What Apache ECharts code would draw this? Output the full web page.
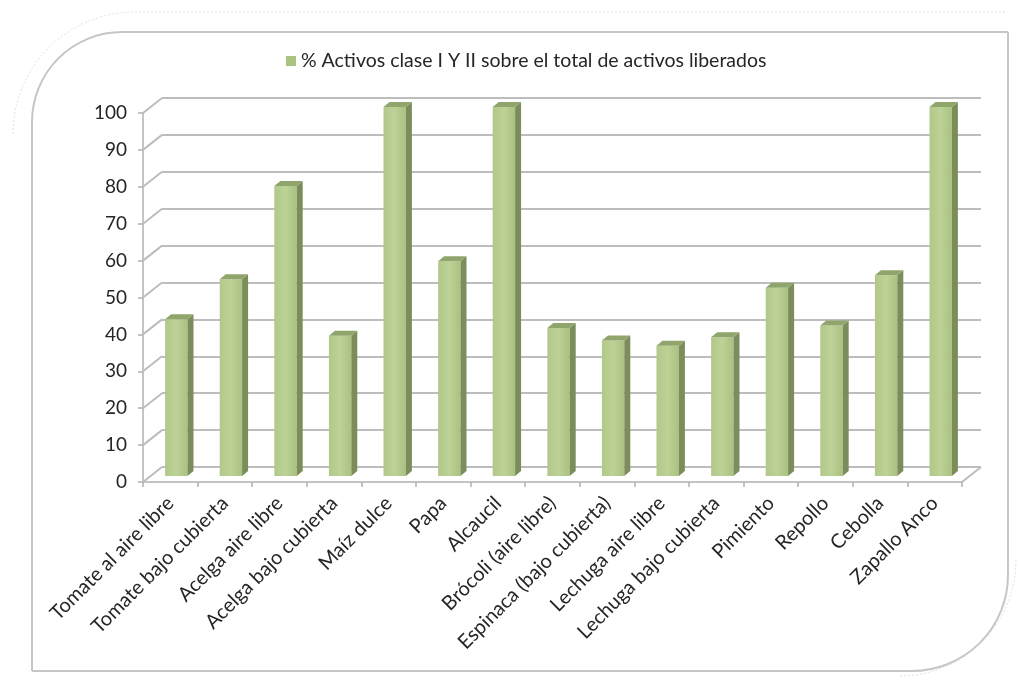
<!DOCTYPE html>
<html>
<head>
<meta charset="utf-8">
<script src="https://cdn.jsdelivr.net/npm/echarts@6/dist/echarts.min.js"></script>
<style>
html,body{margin:0;padding:0;background:#fff;}
#chart{width:1018px;height:684px;}
</style>
</head>
<body>
<div id="chart"></div>
<script>
const categories = [
  'Tomate al aire libre', 'Tomate bajo cubierta', 'Acelga aire libre', 'Acelga bajo cubierta',
  'Maíz dulce', 'Papa', 'Alcaucil', 'Brócoli (aire libre)', 'Espinaca (bajo cubierta)',
  'Lechuga aire libre', 'Lechuga bajo cubierta', 'Pimiento', 'Repollo', 'Cebolla', 'Zapallo Anco'
];
const values = [42.5, 53.3, 78.6, 38.0, 100, 58.2, 100, 40.1, 36.7, 35.3, 37.6, 51.0, 40.8, 54.4, 100];
const seriesName = '% Activos clase I Y II sobre el total de activos liberados';
const yTicks = [0, 10, 20, 30, 40, 50, 60, 70, 80, 90, 100];

const WALL_DX = 19, WALL_DY = -15;   // depth of the 3D box
const BAR_DX = 6, BAR_DY = -6;       // bar position in depth
const BD_X = 6, BD_Y = -5;           // bar own depth

const chart = echarts.init(document.getElementById('chart'), null, {renderer: 'canvas'});

const gridColor = '#bdbdbd';
const font = 'Lato, "Open Sans", sans-serif';
const frameStyle = {fill: 'none', stroke: '#c6c6c6', lineWidth: 2};
const outerStyle = {fill: 'none', stroke: '#e0e0e0', lineWidth: 1, lineDash: [2, 2]};

const option = {
  backgroundColor: '#ffffff',
  animation: false,
  legend: {
    top: 46,
    left: 281,
    itemWidth: 10,
    itemHeight: 10,
    icon: 'rect',
    itemGap: 7,
    textStyle: {fontFamily: font, fontSize: 19.5, color: '#262626'},
    data: [{name: seriesName, icon: 'rect', itemStyle: {color: '#a9c47f'}}]
  },
  graphic: [
    {type: 'line', silent: true, shape: {x1: 122, y1: 32, x2: 1008, y2: 32}, style: frameStyle},
    {type: 'line', silent: true, shape: {x1: 1008, y1: 32, x2: 1008, y2: 575}, style: frameStyle},
    {type: 'arc', silent: true, shape: {cx: 912, cy: 575, r: 96, startAngle: 0, endAngle: Math.PI / 2}, style: frameStyle},
    {type: 'line', silent: true, shape: {x1: 912, y1: 671, x2: 32, y2: 671}, style: frameStyle},
    {type: 'line', silent: true, shape: {x1: 32, y1: 671, x2: 32, y2: 122}, style: frameStyle},
    {type: 'arc', silent: true, shape: {cx: 122, cy: 122, r: 90, startAngle: Math.PI, endAngle: Math.PI * 1.5}, style: frameStyle},
    {type: 'arc', silent: true, shape: {cx: 135, cy: 134, r: 122, startAngle: Math.PI, endAngle: Math.PI * 1.5}, style: outerStyle},
    {type: 'line', silent: true, shape: {x1: 135, y1: 12, x2: 1005, y2: 12}, style: outerStyle},
    {type: 'arc', silent: true, shape: {cx: 900, cy: 560, r: 116, startAngle: 0, endAngle: Math.PI / 2}, style: outerStyle}
  ],
  grid: [
    {left: 143, right: 56, top: 113, bottom: 202},
    {left: 143 + WALL_DX, right: 56 - WALL_DX, top: 113 + WALL_DY, bottom: 202 - WALL_DY}
  ],
  xAxis: [
    {
      type: 'category', gridIndex: 0, data: categories, boundaryGap: true,
      axisLine: {show: true, lineStyle: {color: '#b0b0b0', width: 1.5}},
      axisTick: {show: true, length: 5, lineStyle: {color: '#b0b0b0', width: 1.5}},
      axisLabel: {interval: 0, rotate: 45, margin: 18, fontFamily: font, fontSize: 20, color: '#262626'},
      splitLine: {show: false}
    },
    {
      type: 'value', gridIndex: 1, min: 0, max: 1, show: false
    }
  ],
  yAxis: [
    {
      type: 'value', gridIndex: 0, min: 0, max: 100, interval: 10,
      axisLine: {show: true, lineStyle: {color: '#b0b0b0', width: 1.5}},
      axisTick: {show: true, length: 5, lineStyle: {color: '#b0b0b0', width: 1.5}},
      axisLabel: {margin: 16, fontFamily: font, fontSize: 19, color: '#262626'},
      splitLine: {show: false}
    },
    {
      type: 'value', gridIndex: 1, min: 0, max: 100, interval: 10,
      axisLine: {show: false}, axisTick: {show: false}, axisLabel: {show: false},
      splitLine: {show: true, lineStyle: {color: gridColor, width: 2}}
    }
  ],
  series: [
    {
      type: 'custom',
      name: 'wall',
      xAxisIndex: 0, yAxisIndex: 0,
      silent: true,
      clip: false,
      z: 1,
      data: yTicks.map(v => [0, v]),
      renderItem: function (params, api) {
        const v = api.value(1);
        const p = api.coord([0, v]);
        const cs = params.coordSys;
        const x = cs.x;
        const children = [{
          type: 'line',
          shape: {x1: x, y1: p[1], x2: x + WALL_DX, y2: p[1] + WALL_DY},
          style: {stroke: gridColor, lineWidth: 2}
        }];
        if (v === 0) {
          const xr = cs.x + cs.width;
          children.push({
            type: 'line',
            shape: {x1: xr, y1: p[1], x2: xr + WALL_DX, y2: p[1] + WALL_DY},
            style: {stroke: gridColor, lineWidth: 2}
          });
        }
        return {type: 'group', children: children};
      }
    },
    {
      type: 'custom',
      name: seriesName,
      xAxisIndex: 0, yAxisIndex: 0,
      clip: false,
      z: 3,
      itemStyle: {color: '#a9c47f'},
      data: values.map((v, i) => [i, v]),
      encode: {x: 0, y: 1},
      renderItem: function (params, api) {
        const i = api.value(0), v = api.value(1);
        const top = api.coord([i, v]);
        const bot = api.coord([i, 0]);
        const band = api.size([1, 0])[0];
        const w = band * 0.41;
        const x0 = top[0] - w / 2 + BAR_DX;
        const y0 = top[1] + BAR_DY;
        const yb = bot[1] + BAR_DY;
        return {
          type: 'group',
          children: [
            {
              type: 'rect',
              shape: {x: x0, y: y0, width: w, height: yb - y0},
              style: {
                fill: new echarts.graphic.LinearGradient(0, 0, 1, 0, [
                  {offset: 0, color: '#b2c88a'},
                  {offset: 0.5, color: '#bdd296'},
                  {offset: 1, color: '#aac180'}
                ])
              }
            },
            {
              type: 'polygon',
              shape: {points: [[x0 + w, y0], [x0 + w + BD_X, y0 + BD_Y], [x0 + w + BD_X, yb + BD_Y], [x0 + w, yb]]},
              style: {fill: '#7b8d5b'}
            },
            {
              type: 'polygon',
              shape: {points: [[x0, y0], [x0 + BD_X, y0 + BD_Y], [x0 + w + BD_X, y0 + BD_Y], [x0 + w, y0]]},
              style: {fill: '#8fa56b'}
            }
          ]
        };
      }
    }
  ]
};

chart.setOption(option);
</script>
</body>
</html>
